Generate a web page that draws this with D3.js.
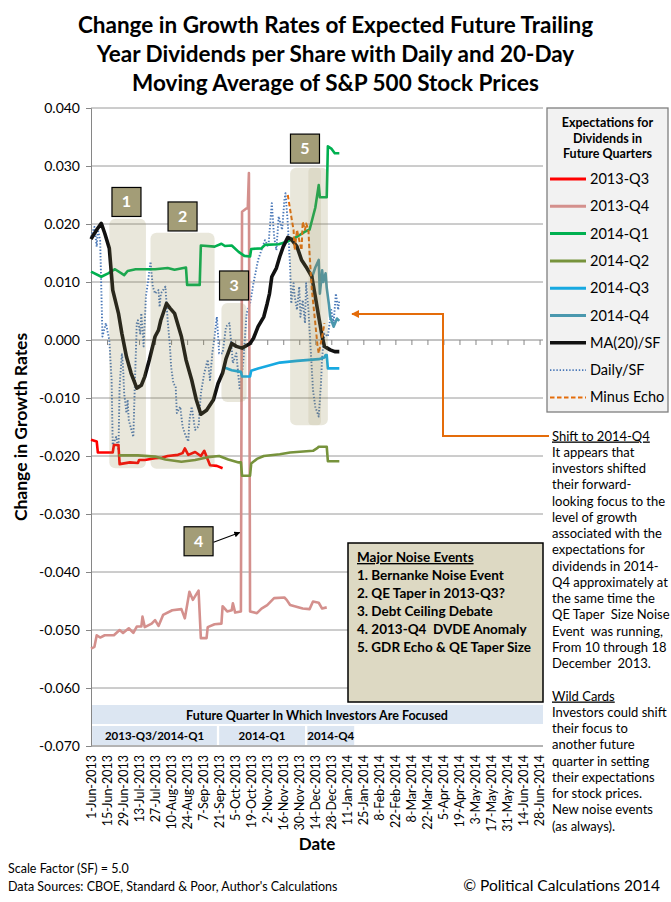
<!DOCTYPE html>
<html><head><meta charset="utf-8">
<script src="https://cdn.jsdelivr.net/npm/d3@7"></script>
<style>
body{margin:0;background:#fff}
svg{display:block}
text{font-family:Lato,"Open Sans",sans-serif;fill:#000}
</style>
</head><body><div id="chart"></div>
<script>
// ---------------- DATA ----------------
const titleLines = ["Change in Growth Rates of Expected Future Trailing",
  "Year Dividends per Share with Daily and 20-Day",
  "Moving Average of S&P 500 Stock Prices"];
const yTickValues = [0.04,0.03,0.02,0.01,0,-0.01,-0.02,-0.03,-0.04,-0.05,-0.06,-0.07];
const xTickLabels = ["1-Jun-2013","15-Jun-2013","29-Jun-2013","13-Jul-2013","27-Jul-2013","10-Aug-2013",
  "24-Aug-2013","7-Sep-2013","21-Sep-2013","5-Oct-2013","19-Oct-2013","2-Nov-2013","16-Nov-2013",
  "30-Nov-2013","14-Dec-2013","28-Dec-2013","11-Jan-2014","25-Jan-2014","8-Feb-2014","22-Feb-2014",
  "8-Mar-2014","22-Mar-2014","5-Apr-2014","19-Apr-2014","3-May-2014","17-May-2014","31-May-2014",
  "14-Jun-2014","28-Jun-2014"];
const xDomain = ["2013-06-01","2014-07-01"];
const yDomain = [-0.07, 0.04];

const seriesNames = ["2013-Q3","2013-Q4","2014-Q1","2014-Q2","2014-Q3","2014-Q4","MA(20)/SF","Daily/SF","Minus Echo"];

const s2013Q3 = [["2013-06-01",-0.0172],["2013-06-06",-0.0175],["2013-06-07",-0.0194],["2013-06-20",-0.0194],
  ["2013-06-21",-0.0181],["2013-06-25",-0.0181],["2013-06-26",-0.0214],["2013-07-05",-0.0211],["2013-07-12",-0.0212],
  ["2013-07-13",-0.0207],["2013-07-18",-0.0207],["2013-07-27",-0.0204],["2013-08-02",-0.0203],["2013-08-07",-0.0200],
  ["2013-08-16",-0.0198],["2013-08-20",-0.0195],["2013-08-22",-0.0187],["2013-08-25",-0.0198],["2013-08-31",-0.0193],
  ["2013-09-05",-0.0200],["2013-09-08",-0.0191],["2013-09-11",-0.0206],["2013-09-13",-0.0216],["2013-09-19",-0.0217],
  ["2013-09-24",-0.0221]];
const s2013Q4 = [["2013-06-01",-0.0532],["2013-06-04",-0.0529],["2013-06-06",-0.0509],["2013-06-09",-0.0513],
  ["2013-06-13",-0.0509],["2013-06-21",-0.0509],["2013-06-26",-0.0500],["2013-06-29",-0.0505],["2013-07-04",-0.0497],
  ["2013-07-08",-0.0505],["2013-07-11",-0.0494],["2013-07-15",-0.0494],["2013-07-16",-0.0477],["2013-07-18",-0.0495],
  ["2013-07-24",-0.0489],["2013-07-27",-0.0483],["2013-07-30",-0.0493],["2013-08-03",-0.0474],["2013-08-11",-0.0466],
  ["2013-08-19",-0.0464],["2013-08-22",-0.0480],["2013-08-26",-0.0434],["2013-08-29",-0.0448],["2013-09-03",-0.0432],
  ["2013-09-05",-0.0514],["2013-09-10",-0.0514],["2013-09-11",-0.0495],["2013-09-17",-0.0490],["2013-09-23",-0.0489],
  ["2013-09-24",-0.0459],["2013-09-28",-0.0468],["2013-10-02",-0.0466],["2013-10-03",-0.0454],["2013-10-05",-0.0470],
  ["2013-10-10",-0.0468],["2013-10-11",0.0221],["2013-10-15",0.0227],["2013-10-16",0.0227],["2013-10-17",0.0288],
  ["2013-10-18",-0.0468],["2013-10-24",-0.0471],["2013-10-28",-0.0463],["2013-11-02",-0.0457],["2013-11-08",-0.0445],
  ["2013-11-17",-0.0444],["2013-11-19",-0.0448],["2013-11-22",-0.0457],["2013-12-03",-0.0463],["2013-12-09",-0.0464],
  ["2013-12-12",-0.0451],["2013-12-17",-0.0453],["2013-12-20",-0.0463],["2013-12-24",-0.0461]];
const s2014Q1 = [["2013-06-01",0.0118],["2013-06-10",0.0109],["2013-06-16",0.0115],["2013-06-22",0.0122],
  ["2013-06-30",0.0112],["2013-07-03",0.0119],["2013-07-10",0.0122],["2013-07-27",0.0122],["2013-08-07",0.0124],
  ["2013-08-13",0.0121],["2013-08-23",0.0125],["2013-08-24",0.0095],["2013-09-04",0.0095],["2013-09-05",0.0163],
  ["2013-09-17",0.0161],["2013-09-23",0.0166],["2013-09-26",0.0162],["2013-10-02",0.0163],["2013-10-08",0.0152],
  ["2013-10-13",0.0145],["2013-10-18",0.0144],["2013-10-19",0.0157],["2013-10-28",0.0158],["2013-10-31",0.0164],
  ["2013-11-12",0.0165],["2013-11-20",0.0170],["2013-11-28",0.0178],["2013-12-05",0.0187],["2013-12-09",0.0190],
  ["2013-12-12",0.0213],["2013-12-14",0.0228],["2013-12-17",0.0267],["2013-12-18",0.0246],["2013-12-24",0.0246],
  ["2013-12-25",0.0334],["2013-12-28",0.0330],["2013-12-31",0.0322],["2014-01-04",0.0322]];
const s2014Q2 = [["2013-06-25",-0.0199],["2013-07-12",-0.0199],["2013-07-27",-0.0201],["2013-08-05",-0.0206],
  ["2013-08-19",-0.0210],["2013-08-31",-0.0207],["2013-09-11",-0.0202],["2013-09-21",-0.0200],["2013-09-29",-0.0206],
  ["2013-10-08",-0.0211],["2013-10-10",-0.0211],["2013-10-11",-0.0234],["2013-10-18",-0.0234],["2013-10-19",-0.0213],
  ["2013-10-24",-0.0205],["2013-10-30",-0.0200],["2013-11-13",-0.0197],["2013-11-22",-0.0194],["2013-12-12",-0.0191],
  ["2013-12-16",-0.0186],["2013-12-17",-0.0184],["2013-12-24",-0.0184],["2013-12-25",-0.0209],["2014-01-04",-0.0209]];
const s2014Q3 = [["2013-09-25",-0.0047],["2013-10-02",-0.0052],["2013-10-10",-0.0055],["2013-10-11",-0.0063],
  ["2013-10-18",-0.0063],["2013-10-19",-0.0053],["2013-10-25",-0.0049],["2013-11-02",-0.0045],["2013-11-13",-0.0039],
  ["2013-11-28",-0.0036],["2013-12-17",-0.0033],["2013-12-22",-0.0030],["2013-12-23",-0.0026],["2013-12-24",-0.0026],
  ["2013-12-25",-0.0049],["2014-01-04",-0.0049]];
const s2014Q4 = [["2013-12-11",0.0107],["2013-12-14",0.0125],["2013-12-17",0.0138],["2013-12-18",0.0080],
  ["2013-12-20",0.0120],["2013-12-21",0.0100],["2013-12-23",0.0115],["2013-12-24",0.0090],["2013-12-26",0.0060],
  ["2013-12-27",0.0040],["2013-12-30",0.0023],["2014-01-02",0.0037],["2014-01-04",0.0033]];
const ma20 = [["2013-06-01",0.0174],["2013-06-06",0.0190],["2013-06-10",0.0201],["2013-06-13",0.0184],
  ["2013-06-17",0.0158],["2013-06-20",0.0086],["2013-06-25",0.0046],["2013-06-28",0.0011],["2013-07-02",-0.0029],
  ["2013-07-06",-0.0057],["2013-07-11",-0.0083],["2013-07-15",-0.0078],["2013-07-18",-0.0063],["2013-07-22",-0.0034],
  ["2013-07-27",0.0006],["2013-07-30",0.0017],["2013-08-01",0.0034],["2013-08-06",0.0063],["2013-08-09",0.0055],
  ["2013-08-13",0.0046],["2013-08-19",0.0006],["2013-08-23",-0.0034],["2013-08-28",-0.0069],["2013-09-01",-0.0103],
  ["2013-09-05",-0.0128],["2013-09-10",-0.0121],["2013-09-16",-0.0103],["2013-09-20",-0.0075],["2013-09-24",-0.0057],
  ["2013-09-27",-0.0032],["2013-10-02",-0.0006],["2013-10-06",-0.0011],["2013-10-11",-0.0014],["2013-10-18",-0.0006],
  ["2013-10-21",0.0003],["2013-10-25",0.0023],["2013-10-30",0.0040],["2013-11-02",0.0063],["2013-11-04",0.0080],
  ["2013-11-06",0.0109],["2013-11-10",0.0124],["2013-11-13",0.0144],["2013-11-16",0.0161],["2013-11-20",0.0177],
  ["2013-11-23",0.0174],["2013-11-28",0.0161],["2013-12-02",0.0138],["2013-12-06",0.0126],["2013-12-11",0.0109],
  ["2013-12-14",0.0075],["2013-12-17",0.0040],["2013-12-20",0.0006],["2013-12-22",-0.0011],["2013-12-27",-0.0017],
  ["2013-12-31",-0.0020],["2014-01-04",-0.0020]];
const dailySF = [["2013-06-01",0.0178],["2013-06-04",0.0195],["2013-06-06",0.0161],["2013-06-07",0.0190],
  ["2013-06-09",0.0172],["2013-06-11",0.0006],["2013-06-14",0.0029],["2013-06-17",0.0000],["2013-06-19",-0.0069],
  ["2013-06-20",-0.0181],["2013-06-23",-0.0167],["2013-06-25",-0.0190],["2013-06-26",-0.0080],["2013-06-28",-0.0023],
  ["2013-06-29",-0.0046],["2013-06-30",-0.0092],["2013-07-02",-0.0126],["2013-07-03",-0.0103],["2013-07-04",-0.0138],
  ["2013-07-08",-0.0167],["2013-07-09",-0.0098],["2013-07-11",0.0029],["2013-07-12",0.0034],["2013-07-14",0.0011],
  ["2013-07-15",0.0046],["2013-07-17",-0.0011],["2013-07-19",0.0075],["2013-07-21",0.0103],["2013-07-23",0.0135],
  ["2013-07-25",0.0092],["2013-07-27",0.0080],["2013-07-30",0.0086],["2013-07-31",0.0057],["2013-08-01",0.0080],
  ["2013-08-03",0.0086],["2013-08-05",0.0092],["2013-08-07",0.0034],["2013-08-09",-0.0011],["2013-08-10",-0.0046],
  ["2013-08-12",-0.0075],["2013-08-14",-0.0080],["2013-08-15",-0.0126],["2013-08-18",-0.0115],["2013-08-20",-0.0149],
  ["2013-08-22",-0.0161],["2013-08-25",-0.0175],["2013-08-26",-0.0138],["2013-08-28",-0.0115],["2013-08-31",-0.0155],
  ["2013-09-03",-0.0149],["2013-09-05",-0.0092],["2013-09-08",-0.0057],["2013-09-11",-0.0034],["2013-09-13",-0.0069],
  ["2013-09-15",-0.0023],["2013-09-17",0.0006],["2013-09-19",0.0040],["2013-09-21",-0.0023],["2013-09-24",-0.0023],
  ["2013-09-27",0.0023],["2013-09-30",0.0029],["2013-10-03",-0.0040],["2013-10-06",-0.0023],["2013-10-09",-0.0086],
  ["2013-10-12",-0.0040],["2013-10-15",0.0046],["2013-10-18",0.0063],["2013-10-21",0.0098],["2013-10-25",0.0138],
  ["2013-10-28",0.0155],["2013-10-31",0.0172],["2013-11-03",0.0161],["2013-11-06",0.0236],["2013-11-08",0.0178],
  ["2013-11-10",0.0155],["2013-11-12",0.0213],["2013-11-15",0.0190],["2013-11-17",0.0241],["2013-11-18",0.0253],
  ["2013-11-20",0.0201],["2013-11-22",0.0126],["2013-11-23",0.0063],["2013-11-25",0.0098],["2013-11-26",0.0075],
  ["2013-11-28",0.0052],["2013-11-30",0.0092],["2013-12-01",0.0040],["2013-12-03",0.0069],["2013-12-05",0.0029],
  ["2013-12-06",0.0098],["2013-12-08",0.0052],["2013-12-10",-0.0017],["2013-12-12",-0.0086],["2013-12-14",-0.0115],
  ["2013-12-17",-0.0132],["2013-12-19",-0.0075],["2013-12-20",-0.0029],["2013-12-22",0.0011],["2013-12-25",0.0006],
  ["2013-12-28",0.0052],["2013-12-30",0.0029],["2014-01-01",0.0080],["2014-01-03",0.0052],["2014-01-04",0.0069]];
const minusEcho = [["2013-11-20",0.0250],["2013-11-23",0.0213],["2013-11-25",0.0190],["2013-11-26",0.0155],
  ["2013-11-28",0.0190],["2013-11-30",0.0172],["2013-12-02",0.0155],["2013-12-03",0.0204],["2013-12-05",0.0190],
  ["2013-12-06",0.0201],["2013-12-08",0.0190],["2013-12-09",0.0149],["2013-12-11",0.0086],["2013-12-14",0.0029],
  ["2013-12-16",-0.0011],["2013-12-17",-0.0023],["2013-12-20",0.0006],["2013-12-22",0.0029]];

// annotation regions (date range, value range) and numbered markers
const regionSpans = [["2013-06-17","2013-07-19",0.0209,-0.0221],["2013-07-23","2013-09-17",0.0185,-0.0222],
  ["2013-09-23","2013-10-15",0.0064,-0.0107],["2013-11-22","2013-12-25",0.0297,-0.0147]];
const innerSpan = ["2013-12-08","2013-12-19",0.0297,-0.0147];
const markerLabels = ["1","2","3","4","5"];
const markerAt = [["2013-07-02",0.0238],["2013-08-20",0.0213],["2013-10-04",0.0094],["2013-09-03",-0.0347],["2013-12-05",0.0330]];
const marker4Arrow = ["2013-10-09",-0.0332];

const legendTitle = ["Expectations for","Dividends in","Future Quarters"];
const noiseTitle = "Major Noise Events";
const noiseEvents = ["1. Bernanke Noise Event","2. QE Taper in 2013-Q3?","3. Debt Ceiling Debate",
  "4. 2013-Q4  DVDE Anomaly","5. GDR Echo & QE Taper Size"];
const focusTitle = "Future Quarter In Which Investors Are Focused";
const focusPeriods = ["2013-Q3/2014-Q1","2014-Q1","2014-Q4"];
const focusRanges = [["2013-06-02","2013-09-19"],["2013-09-21","2013-12-05"],["2013-12-07","2014-01-17"]];
const noteLines = ["Shift to 2014-Q4","It appears that","investors shifted","their forward-","looking focus to the",
  "level of growth","associated with the","expectations for","dividends in 2014-","Q4 approximately at",
  "the same time the","QE Taper  Size Noise","Event  was running,","From 10 through 18","December  2013.","",
  "Wild Cards","Investors could shift","their focus to","another future","quarter in setting",
  "their expectations","for stock prices.","New noise events","(as always)."];
const underlinedNotes = [0,16];

// ---------------- STYLES ----------------
const seriesStyle = [
  {c:"#ff0000",w:2.6},{c:"#d4908d",w:2.6},{c:"#00b050",w:2.6},{c:"#77933c",w:2.6},
  {c:"#17a9e1",w:2.6},{c:"#4a98ae",w:2.6},{c:"#111111",w:3.6},
  {c:"#4a78b8",w:1.9,dash:"1.4 1.8"},{c:"#e46c0a",w:2,dash:"4.5 2.5"}];

// ---------------- CHART ----------------
const W=671,H=902;
const svg = d3.select("#chart").append("svg").attr("width",W).attr("height",H);
const parse = d3.timeParse("%Y-%m-%d");
const parseLbl = d3.timeParse("%e-%b-%Y");
const x = d3.scaleTime().domain(xDomain.map(parse)).range([91,543]);
const y = d3.scaleLinear().domain(yDomain).range([746,108]);

// title
svg.append("g").selectAll("text").data(titleLines).join("text")
  .attr("x",335.5).attr("y",(d,i)=>33+i*29).attr("text-anchor","middle")
  .style("font-size","22.5px").style("font-weight","bold").text(d=>d);

// gridlines
svg.append("g").selectAll("line").data(yTickValues.filter(v=>v!==0)).join("line")
  .attr("x1",91).attr("x2",543).attr("y1",d=>y(d)).attr("y2",d=>y(d))
  .attr("stroke","#9a9a9a").attr("stroke-width",1);

// y axis
const yAxis = svg.append("g").attr("transform","translate(91,0)")
  .call(d3.axisLeft(y).tickValues(yTickValues).tickSize(5).tickPadding(6).tickFormat(d=>d.toFixed(3)));
yAxis.select(".domain").attr("stroke","#868686");
yAxis.selectAll(".tick line").attr("stroke","#868686");
yAxis.selectAll("text").style("font-size","14px").style("font-family","Lato,sans-serif");

// x axis line at zero
const xTickDates = xTickLabels.map(parseLbl);
const xAxis0 = svg.append("g").attr("transform",`translate(0,${y(0)})`)
  .call(d3.axisBottom(x).tickValues(xTickDates).tickSize(5).tickFormat(""));
xAxis0.select(".domain").attr("stroke","#868686").attr("d","M91,0H543");
xAxis0.selectAll(".tick line").attr("stroke","#868686");

// x labels at bottom
const xAxisB = svg.append("g").attr("transform",`translate(0,${y(-0.07)})`)
  .call(d3.axisBottom(x).tickValues(xTickDates).tickSize(0).tickFormat((d,i)=>xTickLabels[i]));
xAxisB.select(".domain").attr("stroke","#9a9a9a").attr("d","M91,0H543");
xAxisB.selectAll("text").attr("transform","rotate(-90)").attr("text-anchor","end")
  .attr("x",-9).attr("y",0).attr("dy","0.35em").style("font-size","12.5px").style("font-family","Lato,sans-serif");

// axis titles
svg.append("text").attr("transform","translate(27,427) rotate(-90)").attr("text-anchor","middle")
  .style("font-size","17.5px").style("font-weight","bold").text("Change in Growth Rates");
svg.append("text").attr("x",317).attr("y",850).attr("text-anchor","middle")
  .style("font-size","17px").style("font-weight","bold").text("Date");

// bottom focus band
const band = svg.append("g");
band.append("rect").attr("x",92).attr("y",705).attr("width",451).attr("height",19).attr("fill","#dce6f2");
band.append("text").attr("x",317).attr("y",719.5).attr("text-anchor","middle")
  .style("font-size","12.5px").style("font-weight","bold").text(focusTitle);
band.selectAll("g.fp").data(focusPeriods).join("g").attr("class","fp").each(function(d,i){
  const g=d3.select(this), x0=x(parse(focusRanges[i][0])), x1=x(parse(focusRanges[i][1]));
  g.append("rect").attr("x",x0).attr("y",726).attr("width",x1-x0).attr("height",19).attr("fill","#dce6f2");
  g.append("text").attr("x",(x0+x1)/2).attr("y",740).attr("text-anchor","middle")
    .style("font-size","11.5px").style("font-weight","bold").text(d);
});

// series
const line = d3.line().x(d=>x(parse(d[0]))).y(d=>y(d[1]));
const seriesData = [s2013Q3,s2013Q4,s2014Q1,s2014Q2,s2014Q3,s2014Q4,ma20,dailySF,minusEcho];
const drawOrder = [7,0,1,2,3,4,5,6,8];
const gLines = svg.append("g");
drawOrder.forEach(i=>{
  const st = seriesStyle[i];
  gLines.append("path").datum(seriesData[i]).attr("d",line).attr("fill","none")
    .attr("stroke",st.c).attr("stroke-width",st.w).attr("stroke-linejoin","round")
    .attr("stroke-dasharray",st.dash||null);
});

// shaded regions
const gReg = svg.append("g");
regionSpans.forEach(r=>{
  const x0=x(parse(r[0])), x1=x(parse(r[1])), y0=y(r[2]), y1=y(r[3]);
  gReg.append("rect").attr("x",x0).attr("y",y0).attr("width",x1-x0).attr("height",y1-y0)
    .attr("rx",6).attr("fill","#8f854c").attr("fill-opacity",0.2);
});
{
  const r=innerSpan, x0=x(parse(r[0])), x1=x(parse(r[1])), y0=y(r[2]), y1=y(r[3]);
  gReg.append("rect").attr("x",x0).attr("y",y0).attr("width",x1-x0).attr("height",y1-y0)
    .attr("rx",4).attr("fill","#8f854c").attr("fill-opacity",0.13);
}

// arrow markers
svg.append("defs").html('<marker id="ah" viewBox="0 0 10 10" refX="9" refY="5" markerWidth="5" markerHeight="5" orient="auto"><path d="M0,0L10,5L0,10z" fill="#000"/></marker>'+
  '<marker id="ao" viewBox="0 0 10 10" refX="9" refY="5" markerWidth="4" markerHeight="4" orient="auto"><path d="M0,0L10,5L0,10z" fill="#e46c0a"/></marker>');
{
  const m = markerAt[3];
  svg.append("line").attr("x1",x(parse(m[0]))+15).attr("y1",y(m[1])+1)
    .attr("x2",x(parse(marker4Arrow[0]))).attr("y2",y(marker4Arrow[1]))
    .attr("stroke","#000").attr("stroke-width",1.2).attr("marker-end","url(#ah)");
}
// numbered markers
const gMk = svg.append("g");
markerAt.forEach((m,i)=>{
  const cx=x(parse(m[0])), cy=y(m[1]);
  gMk.append("rect").attr("x",cx-14.5).attr("y",cy-14.5).attr("width",29).attr("height",29)
    .attr("fill","#a39d77").attr("stroke","#000").attr("stroke-width",1.2);
  gMk.append("text").attr("x",cx).attr("y",cy+5.5).attr("text-anchor","middle")
    .style("font-size","16px").style("font-weight","bold").style("fill","#fff").text(markerLabels[i]);
});

// noise events box
const nb = svg.append("g");
nb.append("rect").attr("x",348).attr("y",543).attr("width",195).attr("height",159)
  .attr("fill","#ddd9c3").attr("stroke","#000").attr("stroke-width",1.5);
nb.append("text").attr("x",357).attr("y",562).style("font-size","13.5px").style("font-weight","bold")
  .style("text-decoration","underline").text(noiseTitle);
nb.selectAll("text.ev").data(noiseEvents).join("text").attr("class","ev")
  .attr("x",357).attr("y",(d,i)=>580+i*18).style("font-size","13.5px").style("font-weight","bold")
  .style("white-space","pre").text(d=>d);

// legend
const lg = svg.append("g");
lg.append("rect").attr("x",547).attr("y",108).attr("width",121).attr("height",304)
  .attr("fill","#f2f2f2").attr("stroke","#7f7f7f").attr("stroke-width",1.3);
lg.selectAll("text.lt").data(legendTitle).join("text").attr("class","lt")
  .attr("x",607.5).attr("y",(d,i)=>127+i*15.5).attr("text-anchor","middle")
  .style("font-size","12.5px").style("font-weight","bold").text(d=>d);
seriesNames.forEach((n,i)=>{
  const yy = 179+i*27.3, st=seriesStyle[i];
  lg.append("line").attr("x1",550).attr("x2",586).attr("y1",yy).attr("y2",yy)
    .attr("stroke",st.c).attr("stroke-width",i===6?3.6:(st.dash?st.w:3)).attr("stroke-dasharray",st.dash||null);
  lg.append("text").attr("x",590).attr("y",yy+5).style("font-size","14.5px").text(n);
});

// orange connector arrow
svg.append("path").attr("d","M549,436H443V314H352").attr("fill","none")
  .attr("stroke","#e46c0a").attr("stroke-width",2).attr("marker-end","url(#ao)");

// right-side notes
const notes = svg.append("g");
notes.selectAll("text").data(noteLines).join("text")
  .attr("x",552).attr("y",(d,i)=>440.5+i*16.25).style("font-size","13px").style("white-space","pre")
  .style("text-decoration",(d,i)=>underlinedNotes.includes(i)?"underline":null).text(d=>d);

// footer
svg.append("text").attr("x",8).attr("y",873).style("font-size","12.5px").text("Scale Factor (SF) = 5.0");
svg.append("text").attr("x",8).attr("y",891).style("font-size","12.5px").text("Data Sources: CBOE, Standard & Poor, Author's Calculations");
svg.append("text").attr("x",660).attr("y",891).attr("text-anchor","end").style("font-size","15.5px").text("© Political Calculations 2014");
</script>
</body></html>
